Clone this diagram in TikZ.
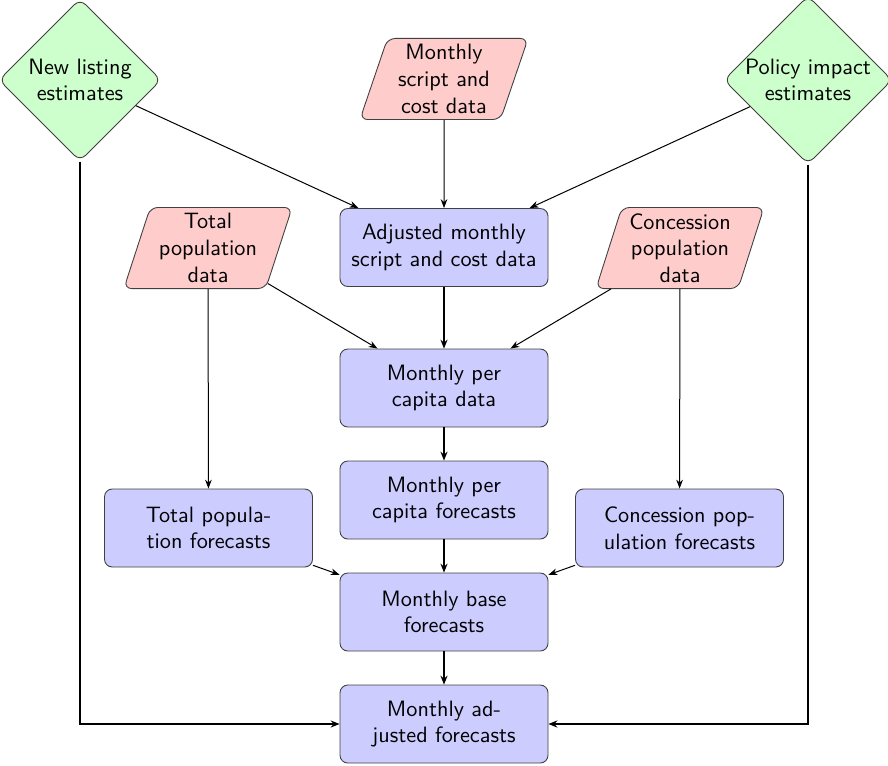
\documentclass[tikz,border=0pt]{standalone}
\usetikzlibrary{shapes.geometric,arrows.meta}
\begin{document}
\begin{tikzpicture}[x=0.45pt,y=-0.45pt, font=\sffamily,
 box/.style={draw=black!75, fill=blue!20, rounded corners=3.5pt, minimum width=93.6pt, minimum height=35.1pt, align=center, inner sep=2pt},
 dat/.style={draw=black!75, fill=red!20, trapezium, trapezium left angle=72, trapezium right angle=108, trapezium stretches=true, rounded corners=3.5pt, minimum width=76pt, minimum height=36.5pt, align=center, inner sep=0pt},
 est/.style={draw=black!75, fill=green!20, diamond, aspect=1, rounded corners=3.5pt, minimum width=73pt, minimum height=73pt, align=center, inner sep=0pt},
 thinarr/.style={-{Stealth[length=4pt,width=3pt]}, black, line width=0.45pt},
 thickarr/.style={-{Stealth[length=4pt,width=3.2pt]}, black, line width=0.9pt}]
\useasboundingbox (0,0) rectangle (888,765);
\node[est] (nle) at (80,80) {New listing\\estimates};
\node[est] (pie) at (808,80) {Policy impact\\estimates};
\node[dat] (msc) at (444,79) {Monthly\\script and\\cost data};
\node[box] (adj) at (444,247.5) {Adjusted monthly\\script and cost data};
\node[dat] (tpd) at (208,248) {Total\\population\\data};
\node[dat] (cpd) at (680,248) {Concession\\population\\data};
\node[box] (pcd) at (444,388) {Monthly per\\capita data};
\node[box] (pcf) at (444,500) {Monthly per\\capita forecasts};
\node[box] (tpf) at (208.5,528) {Total popula-\\tion forecasts};
\node[box] (cpf) at (679.5,528) {Concession pop-\\ulation forecasts};
\node[box] (mbf) at (444,612) {Monthly base\\forecasts};
\node[box] (maf) at (444,724) {Monthly ad-\\justed forecasts};
\draw[thinarr] (nle) -- (adj);
\draw[thinarr] (pie) -- (adj);
\draw[thinarr] (msc) -- (adj);
\draw[thinarr] (tpd) -- (pcd);
\draw[thinarr] (cpd) -- (pcd);
\draw[thickarr] (adj) -- (pcd);
\draw[thinarr] (tpd) -- (tpf);
\draw[thinarr] (cpd) -- (cpf);
\draw[thickarr] (pcd) -- (pcf);
\draw[thickarr] (pcf) -- (mbf);
\draw[thinarr] (tpf) -- (mbf);
\draw[thinarr] (cpf) -- (mbf);
\draw[thickarr] (mbf) -- (maf);
\draw[thickarr] (nle) |- (maf);
\draw[thickarr] (pie) |- (maf);
\end{tikzpicture}
\end{document}
